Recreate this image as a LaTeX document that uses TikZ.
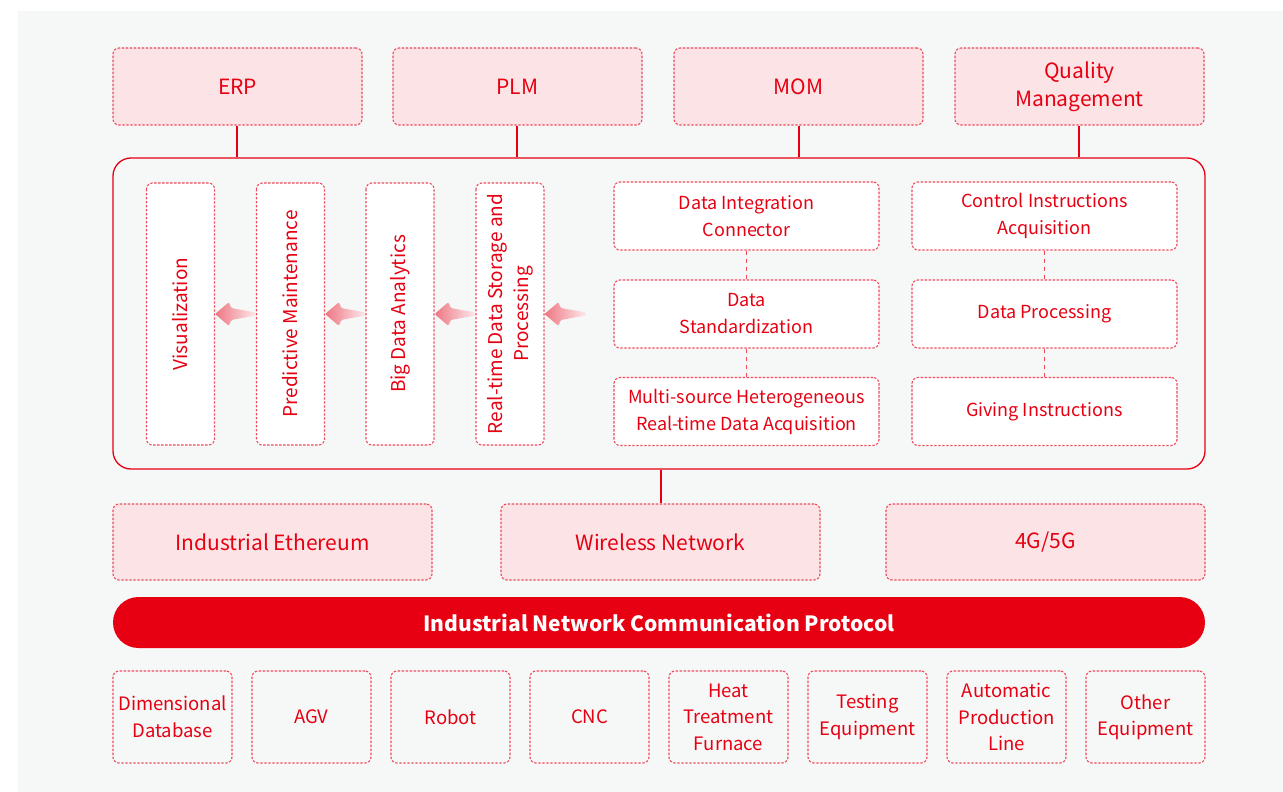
\documentclass[tikz,border=0pt]{standalone}
\usepackage{fontspec}
\setmainfont{Noto Sans CJK SC}
\usetikzlibrary{calc}

\definecolor{bgcol}{HTML}{F6F7F7}
\definecolor{mainred}{HTML}{E60012}
\definecolor{dashred}{HTML}{EE4A5C}
\definecolor{pinkfill}{HTML}{FCE4E6}
\definecolor{arrowdark}{HTML}{EE7683}
\definecolor{arrowlight}{HTML}{FCE9EB}

% fat shaded arrow, tip at #1, tail at #2
\newcommand\fatarrow[2]{%
  \shade[left color=arrowdark, right color=arrowlight, rounded corners=1.5pt]
    (#1) -- ($(#1)+(14,-12)$) -- ($(#1)+(16,-6)$) -- ($(#2)+(0,-1.5)$) -- ($(#2)+(0,1.5)$)
    -- ($(#1)+(16,6)$) -- ($(#1)+(14,12)$) -- cycle;}

\begin{document}
\begin{tikzpicture}[x=1pt, y=-1pt,
    every node/.style={text=mainred, align=center, inner sep=0pt},
    dashbox/.style={draw=dashred, line width=1.1pt, dash pattern=on 2.4pt off 1.6pt,
      rounded corners=6pt},
    topbox/.style={dashbox, fill=pinkfill, minimum width=249pt, minimum height=77pt,
      font=\fontsize{21}{28}\selectfont},
    netbox/.style={dashbox, fill=pinkfill, minimum width=319pt, minimum height=76pt,
      font=\fontsize{21}{28}\selectfont},
    vbox/.style={dashbox, fill=white, minimum width=262pt, minimum height=68pt,
      rotate=90, font=\fontsize{19}{26}\selectfont},
    funcbox/.style={dashbox, fill=white, minimum width=265pt, minimum height=68pt,
      font=\fontsize{18}{27}\selectfont},
    devbox/.style={dashbox, minimum width=119pt, minimum height=92pt,
      font=\fontsize{18.5}{26.5}\selectfont},
    solidline/.style={draw=mainred, line width=1.8pt},
    dashline/.style={draw=dashred, line width=1.6pt, dash pattern=on 4pt off 4pt}]

  \useasboundingbox (0,0) rectangle (1283,792);
  \fill[bgcol] (18,11) rectangle (1283,792);

  % application layer
  \node[topbox] (erp) at (237.5,86.5) {ERP};
  \node[topbox] (plm) at (517.5,86.5) {PLM};
  \node[topbox] (mom) at (798.5,86.5) {MOM};
  \node[topbox] (qm)  at (1079.5,86.5) {Quality\\Management};

  % platform
  \node[draw=mainred, line width=1.3pt, rounded corners=18pt, minimum width=1092pt,
    minimum height=311pt] (core) at (659,313.5) {};
  \foreach \n/\dx in {erp/-0.5,plm/-0.5,mom/0.5,qm/-0.5}
    \draw[solidline] ([xshift=\dx pt]\n.south) -- ([xshift=\dx pt]\n.south |- core.north);

  \node[vbox] (vis) at (180.5,314) {Visualization};
  \node[vbox] (pm)  at (290.5,314) {Predictive Maintenance};
  \node[vbox] (bda) at (400,314) {Big Data Analytics};
  \node[vbox] (rts) at (510,314) {Real-time Data Storage and\\Processing};
  \coordinate (src) at (586,314);

  \fatarrow{vis.south}{pm.north}
  \fatarrow{pm.south}{bda.north}
  \fatarrow{bda.south}{rts.north}
  \fatarrow{rts.south}{src}

  \node[funcbox] (dic) at (746.5,216) {Data Integration\\Connector};
  \node[funcbox] (dst) at (746.5,314) {Data\\Standardization};
  \node[funcbox] (msa) at (746.5,411.5) {Multi-source Heterogeneous\\Real-time Data Acquisition};
  \node[funcbox] (cia) at (1044.5,216) {Control Instructions\\Acquisition};
  \node[funcbox] (dpr) at (1044.5,314) {Data Processing};
  \node[funcbox] (gin) at (1044.5,411.5) {Giving Instructions};
  \draw[dashline] (dic) -- (dst);
  \draw[dashline] (dst) -- (msa);
  \draw[dashline] (cia) -- (dpr);
  \draw[dashline] (dpr) -- (gin);

  % network layer
  \node[netbox] (eth) at (272.5,542) {Industrial Ethereum};
  \node[netbox] (wln) at (660.5,542) {Wireless Network};
  \node[netbox] (g45) at (1045.5,542) {4G/5G};
  \draw[solidline] ([xshift=0.5pt]core.south -| wln.north) -- ([xshift=0.5pt]wln.north);

  \node[fill=mainred, rounded corners=25.5pt, minimum width=1092pt, minimum height=51pt,
    text=white, font=\fontsize{21}{26}\selectfont\bfseries] (proto) at (659,622.5)
    {Industrial Network Communication Protocol};

  % devices
  \foreach \i/\t in {0/Dimensional\\Database, 1/AGV, 2/Robot, 3/CNC,
      4/Heat\\Treatment\\Furnace, 5/Testing\\Equipment, 6/Automatic\\Production\\Line,
      7/Other\\Equipment}
    \node[devbox] (dev\i) at (172.5+139*\i,717) {\t};
\end{tikzpicture}
\end{document}
